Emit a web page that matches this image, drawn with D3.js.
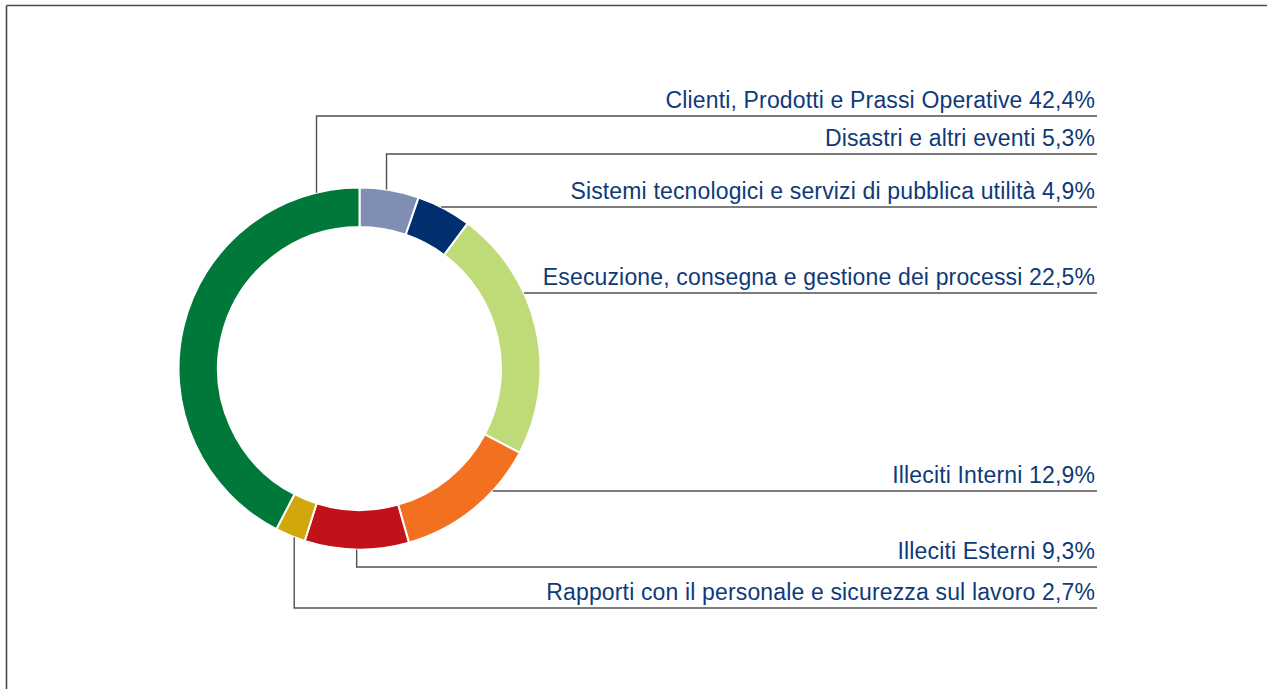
<!DOCTYPE html>
<html>
<head>
<meta charset="utf-8">
<script src="https://cdn.jsdelivr.net/npm/d3@7"></script>
<style>
  html, body { margin: 0; padding: 0; background: #fff; }
  svg { display: block; }
</style>
</head>
<body>
<svg id="chart" width="1267" height="689"></svg>
<script>
// ---- Data ----
const categories = [
  "Disastri e altri eventi",
  "Sistemi tecnologici e servizi di pubblica utilità",
  "Esecuzione, consegna e gestione dei processi",
  "Illeciti Interni",
  "Illeciti Esterni",
  "Rapporti con il personale e sicurezza sul lavoro",
  "Clienti, Prodotti e Prassi Operative"
];
const values = [5.3, 4.9, 22.5, 12.9, 9.3, 2.7, 42.4];
const colors = ["#7f8fb3", "#002e6e", "#bedb78", "#f37021", "#c1121c", "#d3a60b", "#00783a"];

// label layout (presentation): y of each leader's horizontal line, and leader type
const labelLineY = [154, 207, 293, 491, 567, 608, 116];
const leaderType = ["v", "h", "h", "h", "v", "v", "v"];
const anchorFrac = [0.45, 0.5, 0.5, 0.5, 0.5, 0.36, 0.91];

// ---- Layout ----
const svg = d3.select("#chart");
const cx = 359.5, cy = 368.5, R = 181, r = 141.5;
const lineEnd = 1097, textRight = 1095;

// frame
svg.append("line").attr("x1", 6.5).attr("y1", 5.5).attr("x2", 1267).attr("y2", 5.5)
  .attr("stroke", "#4a4a4a").attr("stroke-width", 1.6);
svg.append("line").attr("x1", 6.5).attr("y1", 5.5).attr("x2", 6.5).attr("y2", 689)
  .attr("stroke", "#4a4a4a").attr("stroke-width", 1.6);

const pie = d3.pie().sort(null).value(d => d)(values);
const arc = d3.arc().innerRadius(r).outerRadius(R);

const g = svg.append("g").attr("transform", `translate(${cx},${cy})`);
g.selectAll("path").data(pie).join("path")
  .attr("d", arc)
  .attr("fill", (d, i) => colors[i])
  .attr("stroke", "#fff")
  .attr("stroke-width", 2);

// leaders
const lg = svg.append("g");
pie.forEach((d, i) => {
  const y = labelLineY[i];
  let pts;
  if (leaderType[i] === "v") {
    const a = d.startAngle + (d.endAngle - d.startAngle) * anchorFrac[i];
    const ax = cx + R * Math.sin(a);
    const ay = cy - R * Math.cos(a);
    pts = [[ax, ay], [ax, y], [lineEnd, y]];
  } else {
    const dy = y - cy;
    const ax = cx + Math.sqrt(Math.max(0, R * R - dy * dy));
    pts = [[ax, y], [lineEnd, y]];
  }
  lg.append("path")
    .attr("d", d3.line()(pts))
    .attr("fill", "none")
    .attr("stroke", "#505050")
    .attr("stroke-width", 1.4);
  svg.append("text")
    .attr("x", textRight)
    .attr("y", y - 8)
    .attr("text-anchor", "end")
    .attr("font-family", "'Liberation Sans', Arial, Helvetica, sans-serif")
    .attr("font-size", 23)
    .attr("letter-spacing", 0.15)
    .attr("fill", "#0f3a7a")
    .text(`${categories[i]} ${d3.format(".1f")(values[i]).replace(".", ",")}%`);
});
</script>
</body>
</html>
